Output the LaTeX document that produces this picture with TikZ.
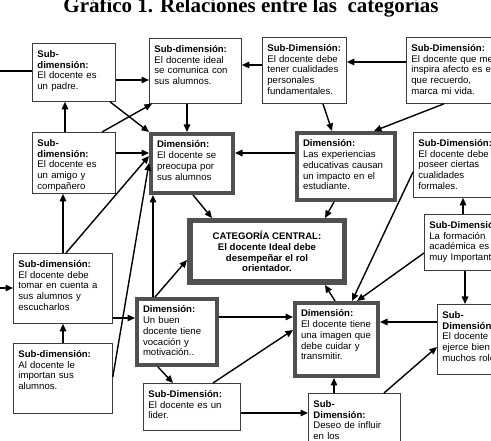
\documentclass[tikz,border=0pt]{standalone}
\usepackage{fontspec}
\setmainfont{Liberation Sans}
\newfontfamily\titlefont{Liberation Serif}
\usetikzlibrary{arrows.meta}
\definecolor{dimgray}{RGB}{80,80,80}
\definecolor{boxline}{RGB}{60,60,60}
\begin{document}
\begin{tikzpicture}[x=1pt,y=-1pt,
		every node/.style={font=\fontsize{9.6}{10.7}\selectfont},
		subdim/.style={draw=boxline, line width=0.8pt, fill=white, anchor=north west,
			align=left, inner xsep=5pt, inner ysep=6pt, text height=8pt},
		dimen/.style={draw=dimgray, line width=4pt, fill=white, anchor=north west,
			align=left, inner xsep=6pt, inner ysep=6pt, text height=8pt},
		central/.style={draw=dimgray, line width=5.5pt, fill=white, align=center,
			inner sep=0pt, font=\fontsize{9.6}{10.7}\selectfont\bfseries},
		arr/.style={-{Triangle[length=7.5pt,width=6.5pt]}, line width=1.4pt},
		plain/.style={line width=1.4pt}]
		\useasboundingbox (0,0) rectangle (491,441);
		\clip (0,0) rectangle (491,441);
		
		\node[anchor=base, font=\titlefont\fontsize{21}{24}\selectfont\bfseries] (title)
			at (251,13) {Gráfico 1. Relaciones entre las \ categorías};
		
		% top row
		\node[subdim, text width=73pt, text depth=38pt] (A) at (32,43)
			{\textbf{Sub-}\\\textbf{dimensión:}\\El docente es\\un padre.};
		\node[subdim, text width=82pt, text depth=45pt] (B) at (149,38)
			{\textbf{Sub-dimensión:}\\El docente ideal\\se comunica con\\sus alumnos.};
		\node[subdim, text width=74pt, text depth=46pt] (C) at (262,37)
			{\textbf{Sub-Dimensión:}\\El docente debe\\tener cualidades\\personales\\fundamentales.};
		\node[subdim, text width=96pt, text depth=46pt] (D) at (406,37)
			{\textbf{Sub-Dimensión:}\\El docente que me\\inspira afecto es el\\que recuerdo,\\marca mi vida.};
		
		% second row
		\node[subdim, text width=73pt, text depth=41pt] (F) at (32,132)
			{\textbf{Sub-}\\\textbf{dimensión:}\\El docente es\\un amigo y\\compañero};
		\node[dimen, text width=70pt, text depth=39pt] (E) at (149,132)
			{\textbf{Dimensión:}\\El docente se\\preocupa por\\sus alumnos};
		\node[dimen, text width=86pt, text depth=47pt] (G) at (295,131)
			{\textbf{Dimensión:}\\Las experiencias\\educativas causan\\un impacto en el\\estudiante.};
		\node[subdim, text width=89pt, text depth=45pt] (H) at (413,132)
			{\textbf{Sub-Dimensión:}\\El docente debe\\poseer ciertas\\cualidades\\formales.};
		
		% centre
		\node[central, minimum width=154.5pt, minimum height=61.5pt] (K) at (267,251.5)
			{CATEGORÍA CENTRAL:\\El docente Ideal debe\\desempeñar el rol\\orientador.};
		\node[subdim, text width=86pt, text depth=36pt] (I) at (424,214)
			{\textbf{Sub-Dimensión:}\\La formación\\académica es\\muy Importante};
		
		% lower rows
		\node[subdim, text width=89pt, text depth=50pt] (L) at (13,253)
			{\textbf{Sub-dimensión:}\\El docente debe\\tomar en cuenta a\\sus alumnos y\\escucharlos};
		\node[subdim, text width=89pt, text depth=50pt] (M) at (13,343)
			{\textbf{Sub-dimensión:}\\Al docente le\\importan sus\\alumnos.};
		\node[dimen, text width=68pt, text depth=46pt] (N) at (135,297)
			{\textbf{Dimensión:}\\Un buen\\docente tiene\\vocación y\\motivación..};
		\node[dimen, text width=71pt, text depth=53pt] (P) at (293,301)
			{\textbf{Dimensión:}\\El docente tiene\\una imagen que\\debe cuidar y\\transmitir.};
		\node[subdim, text width=81pt, text depth=50pt] (J) at (437,304)
			{\textbf{Sub-}\\\textbf{Dimensión:}\\El docente\\ejerce bien\\muchos roles.};
		\node[subdim, text width=87pt, text depth=27pt] (O) at (143,383)
			{\textbf{Sub-Dimensión:}\\El docente es un\\lider.};
		\node[subdim, text width=82pt, text depth=52pt] (Q) at (308,393)
			{\textbf{Sub-}\\\textbf{Dimensión:}\\Deseo de influir\\en los};
		
		% loose ends at the left margin
		\coordinate (inA) at (0,71);
		\coordinate (inL) at (0,288);
		\draw[plain] (inA) -- (inA -| A.west);
		\draw[arr] (inL) -- (inL -| L.west);
		
		% connectors
		\draw[arr] (A.east |- 0,80) -- (B.west |- 0,80);
		\draw[arr] (C.west |- 0,65) -- (B.east |- 0,65);
		\draw[arr] (D.west |- 0,62) -- (C.east |- 0,62);
		\draw[arr] (A.south -| 110,0) -- (E.north west);
		\draw[arr] (F.north -| 102,0) -- (B.south -| 152,0);
		\draw[arr] (F.north -| 65,0) -- (A.south -| 65,0);
		\draw[arr] (B.south -| 187,0) -- (E.north -| 187,0);
		\draw[arr] (C.south -| 323,0) -- (G.north -| 332,0);
		\draw[arr] (D.south -| 444,0) -- (G.north -| 374,0);
		\draw[arr] (F.east |- 0,153) -- (E.west |- 0,153);
		\draw[arr] (G.west |- 0,153) -- (E.east |- 0,153);
		\draw[arr] (E.south -| 193,0) -- (K.north -| 212,0);
		\draw[arr] (G.south -| 334,0) -- (K.north -| 325,0);
		\draw[arr] (L.north -| 63,0) -- (F.south -| 63,0);
		\draw[arr] (L.north -| 66,0) -- (E.west |- 0,156);
		\draw[arr] (M.east |- 0,377) -- (E.west |- 0,163);
		\draw[arr] (N.north -| 153,0) -- (E.south -| 153,0);
		\draw[arr] (N.north -| 155,0) -- (K.west |- 0,260);
		\draw[arr] (L.east |- 0,318) -- (N.west |- 0,318);
		\draw[arr] (M.north -| 63,0) -- (L.south -| 63,0);
		\draw[arr] (N.east |- 0,317) -- (P.west |- 0,317);
		\draw[arr] (O.north -| 213,0) -- (P.west |- 0,330);
		\draw[arr] (N.south -| 158,0) -- (O.north -| 173,0);
		\draw[arr] (O.east |- 0,413) -- (Q.west |- 0,413);
		\draw[arr] (Q.north -| 334,0) -- (P.south -| 334,0);
		\draw[arr] (P.north -| 335,0) -- (K.south -| 325,0);
		\draw[arr] (H.west |- 0,172) -- (P.north -| 352,0);
		\draw[arr] (I.west |- 0,253) -- (P.north -| 357,0);
		\draw[arr] (I.north -| 463,0) -- (H.south -| 463,0);
		\draw[arr] (I.south -| 465,0) -- (J.north -| 465,0);
		\draw[arr] (J.west |- 0,322) -- (P.east |- 0,322);
		\draw[arr] (Q.north -| 384,0) -- (J.west |- 0,347);
	\end{tikzpicture}
\end{document}
